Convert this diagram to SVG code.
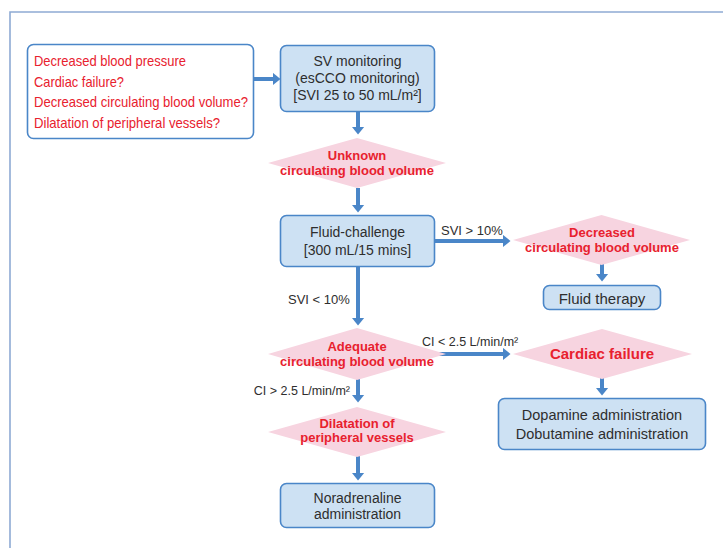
<svg xmlns="http://www.w3.org/2000/svg" width="723" height="548" viewBox="0 0 723 548">
<style>
.frame{fill:none;stroke:#8eaad4;stroke-width:1.6}
.box{fill:#cde1f3;stroke:#4a86c8;stroke-width:1.6}
.wbox{fill:#ffffff;stroke:#4a86c8;stroke-width:1.6}
.dia{fill:#f7d4e0;stroke:none}
.t{font-family:"Liberation Sans",Arial,sans-serif;font-size:14px;fill:#2e2e2e;text-anchor:middle}
.r{font-family:"Liberation Sans",Arial,sans-serif;font-size:14.5px;fill:#e8212e}
.rb{font-family:"Liberation Sans",Arial,sans-serif;font-size:13px;font-weight:bold;fill:#e8212e;text-anchor:middle}
.lbl{font-family:"Liberation Sans",Arial,sans-serif;font-size:13px;fill:#2e2e2e}
.conn line{stroke:#4a86c8;stroke-width:4;marker-end:url(#ah)}
</style>
<defs>
<marker id="ah" viewBox="0 0 8 13" refX="0.5" refY="6.5" markerWidth="8" markerHeight="13" markerUnits="userSpaceOnUse" orient="auto">
<path d="M0,0 L8,6.5 L0,13 z" fill="#4a86c8"/>
</marker>
</defs>
<path class="frame" d="M10,548 L10,12 L723,12"/>

<g class="conn">
<line x1="254" y1="79" x2="273" y2="79"/>
<line x1="358" y1="112" x2="358" y2="127"/>
<line x1="358" y1="188" x2="358" y2="205"/>
<line x1="435" y1="241" x2="503" y2="241"/>
<line x1="602" y1="264" x2="602" y2="274"/>
<line x1="358" y1="267" x2="358" y2="318"/>
<line x1="438" y1="354" x2="503" y2="354"/>
<line x1="602" y1="378" x2="602" y2="388"/>
<line x1="358" y1="379" x2="358" y2="395"/>
<line x1="358" y1="456" x2="358" y2="473"/>
</g>

<g id="symptoms">
<rect class="wbox" x="27.5" y="44.5" width="226" height="94" rx="6"/>
<text class="r" x="34" y="66" textLength="152" lengthAdjust="spacingAndGlyphs">Decreased blood pressure</text>
<text class="r" x="34" y="87" textLength="90" lengthAdjust="spacingAndGlyphs">Cardiac failure?</text>
<text class="r" x="34" y="107" textLength="214" lengthAdjust="spacingAndGlyphs">Decreased circulating blood volume?</text>
<text class="r" x="34" y="128" textLength="186" lengthAdjust="spacingAndGlyphs">Dilatation of peripheral vessels?</text>
</g>

<g id="sv-monitoring">
<rect class="box" x="280.5" y="45.5" width="154" height="66" rx="6"/>
<text class="t" x="357.5" y="66">SV monitoring</text>
<text class="t" x="357.5" y="83">(esCCO monitoring)</text>
<text class="t" x="357.5" y="100">[SVI 25 to 50 mL/m²]</text>
</g>

<g id="unknown">
<polygon class="dia" points="357,138 446,163 357,188 268,163"/>
<text class="rb" x="357" y="160">Unknown</text>
<text class="rb" x="357" y="175">circulating blood volume</text>
</g>

<g id="fluid-challenge">
<rect class="box" x="280.5" y="215.5" width="154" height="51" rx="6"/>
<text class="t" x="357.5" y="237">Fluid-challenge</text>
<text class="t" x="357.5" y="255">[300 mL/15 mins]</text>
</g>

<g id="decreased">
<polygon class="dia" points="601.5,215 690,240 601.5,265 513,240"/>
<text class="rb" x="602" y="237">Decreased</text>
<text class="rb" x="602" y="252">circulating blood volume</text>
</g>

<g id="fluid-therapy">
<rect class="box" x="543.5" y="285.5" width="117" height="24" rx="6"/>
<text class="t" x="602" y="304" style="font-size:15px">Fluid therapy</text>
</g>

<g id="adequate">
<polygon class="dia" points="357,328 446,354 357,380 268,354"/>
<text class="rb" x="357" y="351">Adequate</text>
<text class="rb" x="357" y="366">circulating blood volume</text>
</g>

<g id="cardiac-failure">
<polygon class="dia" points="602,329 692,354 602,379 513,354"/>
<text class="rb" x="602" y="359" style="font-size:15px">Cardiac failure</text>
</g>

<g id="dopamine">
<rect class="box" x="498.5" y="398.5" width="207" height="51" rx="6"/>
<text class="t" x="602" y="420" style="font-size:14.5px">Dopamine administration</text>
<text class="t" x="602" y="439" style="font-size:14.5px">Dobutamine administration</text>
</g>

<g id="dilatation">
<polygon class="dia" points="357,407 446,432 357,457 268,432"/>
<text class="rb" x="357" y="428">Dilatation of</text>
<text class="rb" x="357" y="442">peripheral vessels</text>
</g>

<g id="noradrenaline">
<rect class="box" x="280.5" y="483.5" width="154" height="44" rx="6"/>
<text class="t" x="357.5" y="503">Noradrenaline</text>
<text class="t" x="357.5" y="519">administration</text>
</g>

<g id="labels">
<text class="lbl" x="441" y="235">SVI &gt; 10%</text>
<text class="lbl" x="288" y="304">SVI &lt; 10%</text>
<text class="lbl" x="422" y="346" style="font-size:12.5px">CI &lt; 2.5 L/min/m²</text>
<text class="lbl" x="350" y="395" style="font-size:12.5px;text-anchor:end">CI &gt; 2.5 L/min/m²</text>
</g>
</svg>
